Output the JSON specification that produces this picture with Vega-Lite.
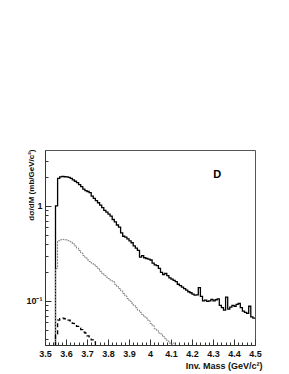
{
  "$schema": "https://vega.github.io/schema/vega-lite/v6.json",
  "width": 210,
  "height": 195,
  "autosize": "none",
  "padding": {"left": 45, "top": 150, "right": 34, "bottom": 29},
  "background": "white",
  "config": {
    "view": {"stroke": "#555", "strokeWidth": 1},
    "font": "Liberation Sans",
    "axis": {"domainColor": "#333", "tickColor": "#333", "labelFont": "Liberation Sans", "labelFontWeight": "bold", "labelFontSize": 9, "labelColor": "#111", "grid": false, "titleFont": "Liberation Sans", "titleFontWeight": "bold", "titleFontSize": 9, "titleColor": "#111"}
  },
  "datasets": {
    "h": [
      {"s":"a","m":3.54,"v":0.001},{"s":"a","m":3.55,"v":1.0},{"s":"a","m":3.56,"v":1.95},{"s":"a","m":3.57,"v":2.02},{"s":"a","m":3.58,"v":2.05},{"s":"a","m":3.59,"v":2.03},{"s":"a","m":3.60,"v":2.02},{"s":"a","m":3.61,"v":2.0},{"s":"a","m":3.62,"v":1.95},{"s":"a","m":3.63,"v":1.88},{"s":"a","m":3.64,"v":1.82},{"s":"a","m":3.65,"v":1.76},{"s":"a","m":3.66,"v":1.68},{"s":"a","m":3.67,"v":1.6},{"s":"a","m":3.68,"v":1.5},{"s":"a","m":3.69,"v":1.45},{"s":"a","m":3.70,"v":1.42},{"s":"a","m":3.71,"v":1.38},{"s":"a","m":3.72,"v":1.27},{"s":"a","m":3.73,"v":1.2},{"s":"a","m":3.74,"v":1.14},{"s":"a","m":3.75,"v":1.08},{"s":"a","m":3.76,"v":1.02},{"s":"a","m":3.77,"v":0.96},{"s":"a","m":3.78,"v":0.9},{"s":"a","m":3.79,"v":0.86},{"s":"a","m":3.80,"v":0.82},{"s":"a","m":3.81,"v":0.78},{"s":"a","m":3.82,"v":0.72},{"s":"a","m":3.83,"v":0.68},{"s":"a","m":3.84,"v":0.63},{"s":"a","m":3.85,"v":0.6},{"s":"a","m":3.86,"v":0.52},{"s":"a","m":3.87,"v":0.48},{"s":"a","m":3.88,"v":0.47},{"s":"a","m":3.89,"v":0.45},{"s":"a","m":3.90,"v":0.43},{"s":"a","m":3.91,"v":0.41},{"s":"a","m":3.92,"v":0.38},{"s":"a","m":3.93,"v":0.36},{"s":"a","m":3.94,"v":0.34},{"s":"a","m":3.95,"v":0.29},{"s":"a","m":3.96,"v":0.3},{"s":"a","m":3.97,"v":0.285},{"s":"a","m":3.98,"v":0.28},{"s":"a","m":3.99,"v":0.275},{"s":"a","m":4.00,"v":0.27},{"s":"a","m":4.01,"v":0.25},{"s":"a","m":4.02,"v":0.24},{"s":"a","m":4.03,"v":0.235},{"s":"a","m":4.04,"v":0.22},{"s":"a","m":4.05,"v":0.2},{"s":"a","m":4.06,"v":0.19},{"s":"a","m":4.07,"v":0.195},{"s":"a","m":4.08,"v":0.185},{"s":"a","m":4.09,"v":0.175},{"s":"a","m":4.10,"v":0.17},{"s":"a","m":4.11,"v":0.165},{"s":"a","m":4.12,"v":0.16},{"s":"a","m":4.13,"v":0.15},{"s":"a","m":4.14,"v":0.145},{"s":"a","m":4.15,"v":0.14},{"s":"a","m":4.16,"v":0.135},{"s":"a","m":4.17,"v":0.13},{"s":"a","m":4.18,"v":0.125},{"s":"a","m":4.19,"v":0.122},{"s":"a","m":4.20,"v":0.118},{"s":"a","m":4.21,"v":0.115},{"s":"a","m":4.22,"v":0.116},{"s":"a","m":4.23,"v":0.138},{"s":"a","m":4.24,"v":0.112},{"s":"a","m":4.25,"v":0.1},{"s":"a","m":4.26,"v":0.102},{"s":"a","m":4.27,"v":0.099},{"s":"a","m":4.28,"v":0.1},{"s":"a","m":4.29,"v":0.104},{"s":"a","m":4.30,"v":0.1},{"s":"a","m":4.31,"v":0.103},{"s":"a","m":4.32,"v":0.105},{"s":"a","m":4.33,"v":0.09},{"s":"a","m":4.34,"v":0.085},{"s":"a","m":4.35,"v":0.08},{"s":"a","m":4.36,"v":0.11},{"s":"a","m":4.37,"v":0.082},{"s":"a","m":4.38,"v":0.086},{"s":"a","m":4.39,"v":0.09},{"s":"a","m":4.40,"v":0.088},{"s":"a","m":4.41,"v":0.092},{"s":"a","m":4.42,"v":0.094},{"s":"a","m":4.43,"v":0.085},{"s":"a","m":4.44,"v":0.078},{"s":"a","m":4.45,"v":0.076},{"s":"a","m":4.46,"v":0.074},{"s":"a","m":4.47,"v":0.088},{"s":"a","m":4.48,"v":0.068},{"s":"a","m":4.49,"v":0.066},{"s":"a","m":4.50,"v":0.066},
      {"s":"b","m":3.54,"v":0.001},{"s":"b","m":3.55,"v":0.22},{"s":"b","m":3.56,"v":0.43},{"s":"b","m":3.57,"v":0.44},{"s":"b","m":3.58,"v":0.445},{"s":"b","m":3.59,"v":0.44},{"s":"b","m":3.60,"v":0.44},{"s":"b","m":3.61,"v":0.43},{"s":"b","m":3.62,"v":0.42},{"s":"b","m":3.63,"v":0.4},{"s":"b","m":3.64,"v":0.38},{"s":"b","m":3.65,"v":0.36},{"s":"b","m":3.66,"v":0.34},{"s":"b","m":3.67,"v":0.32},{"s":"b","m":3.68,"v":0.3},{"s":"b","m":3.69,"v":0.285},{"s":"b","m":3.70,"v":0.27},{"s":"b","m":3.71,"v":0.26},{"s":"b","m":3.72,"v":0.25},{"s":"b","m":3.73,"v":0.24},{"s":"b","m":3.74,"v":0.23},{"s":"b","m":3.75,"v":0.22},{"s":"b","m":3.76,"v":0.205},{"s":"b","m":3.77,"v":0.195},{"s":"b","m":3.78,"v":0.185},{"s":"b","m":3.79,"v":0.178},{"s":"b","m":3.80,"v":0.172},{"s":"b","m":3.81,"v":0.165},{"s":"b","m":3.82,"v":0.16},{"s":"b","m":3.83,"v":0.15},{"s":"b","m":3.84,"v":0.142},{"s":"b","m":3.85,"v":0.135},{"s":"b","m":3.86,"v":0.128},{"s":"b","m":3.87,"v":0.12},{"s":"b","m":3.88,"v":0.113},{"s":"b","m":3.89,"v":0.106},{"s":"b","m":3.90,"v":0.1},{"s":"b","m":3.91,"v":0.095},{"s":"b","m":3.92,"v":0.09},{"s":"b","m":3.93,"v":0.085},{"s":"b","m":3.94,"v":0.08},{"s":"b","m":3.95,"v":0.076},{"s":"b","m":3.96,"v":0.072},{"s":"b","m":3.97,"v":0.068},{"s":"b","m":3.98,"v":0.066},{"s":"b","m":3.99,"v":0.062},{"s":"b","m":4.00,"v":0.058},{"s":"b","m":4.01,"v":0.055},{"s":"b","m":4.02,"v":0.051},{"s":"b","m":4.03,"v":0.049},{"s":"b","m":4.04,"v":0.046},{"s":"b","m":4.05,"v":0.045},{"s":"b","m":4.06,"v":0.042},{"s":"b","m":4.07,"v":0.04},{"s":"b","m":4.08,"v":0.038},{"s":"b","m":4.09,"v":0.036},{"s":"b","m":4.10,"v":0.035},{"s":"b","m":4.11,"v":0.036},{"s":"b","m":4.12,"v":0.034},{"s":"b","m":4.13,"v":0.03},{"s":"b","m":4.14,"v":0.03},
      {"s":"c","m":3.54,"v":0.001},{"s":"c","m":3.55,"v":0.045},{"s":"c","m":3.56,"v":0.063},{"s":"c","m":3.57,"v":0.065},{"s":"c","m":3.58,"v":0.066},{"s":"c","m":3.59,"v":0.065},{"s":"c","m":3.60,"v":0.064},{"s":"c","m":3.61,"v":0.063},{"s":"c","m":3.62,"v":0.061},{"s":"c","m":3.63,"v":0.058},{"s":"c","m":3.64,"v":0.056},{"s":"c","m":3.65,"v":0.054},{"s":"c","m":3.66,"v":0.052},{"s":"c","m":3.67,"v":0.05},{"s":"c","m":3.68,"v":0.047},{"s":"c","m":3.69,"v":0.046},{"s":"c","m":3.70,"v":0.043},{"s":"c","m":3.71,"v":0.041},{"s":"c","m":3.72,"v":0.039},{"s":"c","m":3.73,"v":0.037},{"s":"c","m":3.74,"v":0.033},{"s":"c","m":3.75,"v":0.03}
    ],
    "lab": [{"m": 4.32, "v": 2.12, "t": "D"}]
  },
  "resolve": {"axis": {"x": "independent", "y": "independent"}},
  "layer": [
    {
      "data": {"name": "h"},
      "transform": [{"filter": "datum.s === 'a'"}],
      "mark": {"type": "line", "interpolate": "step-after", "clip": true, "color": "black", "strokeWidth": 1.3},
      "encoding": {
        "x": {"field": "m", "type": "quantitative", "scale": {"domain": [3.5, 4.5], "nice": false, "zero": false},
              "axis": {"orient": "bottom", "values": [3.5,3.6,3.7,3.8,3.9,4.0,4.1,4.2,4.3,4.4,4.5], "format": "~g", "tickSize": -6, "labelPadding": 10, "labelFlush": false, "title": "Inv. Mass (GeV/c²)", "titleX": 217, "titleY": 20, "titleAlign": "right", "titleBaseline": "middle"}},
        "y": {"field": "v", "type": "quantitative", "scale": {"type": "log", "domain": [0.0344, 3.88], "nice": false},
              "axis": {"orient": "left", "values": [0.1, 1], "tickSize": -6, "labelPadding": 9, "labelExpr": "datum.value >= 0.5 ? '1' : '10⁻¹'", "title": "dσ/dM (mb/GeV/c²)", "titleFontSize": 8, "titleX": -14, "titleY": -1, "titleAngle": -90, "titleAlign": "right", "titleBaseline": "middle"}}
      }
    },
    {
      "data": {"name": "h"},
      "transform": [{"filter": "datum.s === 'b'"}],
      "mark": {"type": "line", "interpolate": "step-after", "clip": true, "color": "#7a7a7a", "strokeWidth": 1, "strokeDash": [2, 1]},
      "encoding": {
        "x": {"field": "m", "type": "quantitative", "scale": {"domain": [3.5, 4.5], "nice": false, "zero": false},
              "axis": {"orient": "bottom", "values": [3.52,3.54,3.56,3.58,3.62,3.64,3.66,3.68,3.72,3.74,3.76,3.78,3.82,3.84,3.86,3.88,3.92,3.94,3.96,3.98,4.02,4.04,4.06,4.08,4.12,4.14,4.16,4.18,4.22,4.24,4.26,4.28,4.32,4.34,4.36,4.38,4.42,4.44,4.46,4.48], "tickSize": -3, "labels": false, "domain": false, "title": null}},
        "y": {"field": "v", "type": "quantitative", "scale": {"type": "log", "domain": [0.0344, 3.88], "nice": false},
              "axis": {"orient": "left", "values": [0.04,0.05,0.06,0.07,0.08,0.09,0.2,0.3,0.4,0.5,0.6,0.7,0.8,0.9,2,3], "tickSize": -3, "labels": false, "domain": false, "title": null}}
      }
    },
    {
      "data": {"name": "h"},
      "transform": [{"filter": "datum.s === 'c'"}],
      "mark": {"type": "line", "interpolate": "step-after", "clip": true, "color": "black", "strokeWidth": 1.3, "strokeDash": [4, 3]},
      "encoding": {
        "x": {"field": "m", "type": "quantitative", "scale": {"domain": [3.5, 4.5], "nice": false, "zero": false}, "axis": null},
        "y": {"field": "v", "type": "quantitative", "scale": {"type": "log", "domain": [0.0344, 3.88], "nice": false}, "axis": null}
      }
    },
    {
      "data": {"name": "lab"},
      "mark": {"type": "text", "font": "Liberation Sans", "fontWeight": "bold", "fontSize": 11, "color": "black"},
      "encoding": {
        "x": {"field": "m", "type": "quantitative", "scale": {"domain": [3.5, 4.5], "nice": false, "zero": false}, "axis": null},
        "y": {"field": "v", "type": "quantitative", "scale": {"type": "log", "domain": [0.0344, 3.88], "nice": false}, "axis": null},
        "text": {"field": "t"}
      }
    }
  ]
}
